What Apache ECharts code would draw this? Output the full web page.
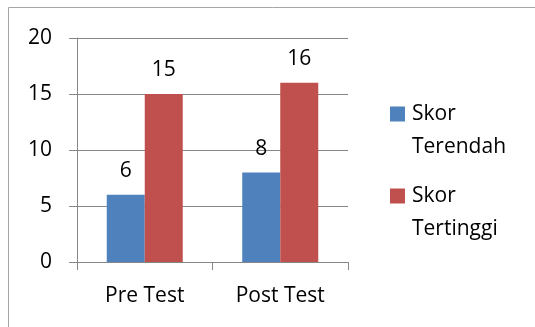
<!DOCTYPE html>
<html><head><meta charset="utf-8">
<script src="https://cdn.jsdelivr.net/npm/echarts@6/dist/echarts.min.js"></script>
<style>html,body{margin:0;padding:0;background:#fff}#c{width:535px;height:327px}</style>
</head><body><div id="c"></div>
<script>
var categories = ['Pre Test', 'Post Test'];
var seriesNames = ['Skor Terendah', 'Skor Tertinggi'];
var skorTerendah = [6, 8];
var skorTertinggi = [15, 16];
var yTicks = [0, 5, 10, 15, 20];

var FONT = 'Open Sans';
var FS = 21;
var chart = echarts.init(document.getElementById('c'), null, {renderer: 'canvas'});
var labelCfg = {show: true, position: 'top', distance: 13, color: '#000', fontFamily: FONT, fontSize: FS};
chart.setOption({
  animation: false,
  textStyle: {fontFamily: FONT},
  graphic: [{
    type: 'rect', silent: true,
    shape: {x: 8.5, y: 7.5, width: 700, height: 500},
    style: {fill: 'none', stroke: '#a6a6a6', lineWidth: 1}
  }],
  grid: {left: 77, right: 187, top: 38, bottom: 65, containLabel: false},
  legend: {
    orient: 'vertical', left: 390, top: 64.5, padding: 0, itemGap: -17,
    itemWidth: 15, itemHeight: 15, icon: 'rect',
    data: seriesNames,
    formatter: function (n) { return '\n' + n.replace(' ', '\n'); },
    textStyle: {fontFamily: FONT, fontSize: FS, color: '#000', lineHeight: 33, padding: [0, 0, 0, 2]}
  },
  xAxis: {
    type: 'category', data: categories,
    axisLine: {lineStyle: {color: '#868686'}},
    axisTick: {show: true, length: 8, lineStyle: {color: '#868686'}},
    axisLabel: {color: '#000', fontFamily: FONT, fontSize: FS, margin: 24},
    splitLine: {show: false}
  },
  yAxis: {
    type: 'value', min: yTicks[0], max: yTicks[yTicks.length - 1], interval: 5,
    axisLine: {show: true, lineStyle: {color: '#868686'}},
    axisTick: {show: true, length: 8, lineStyle: {color: '#868686'}},
    axisLabel: {color: '#000', fontFamily: FONT, fontSize: FS, margin: 25},
    splitLine: {show: true, lineStyle: {color: '#868686', width: 1}}
  },
  series: [
    {name: seriesNames[0], type: 'bar', data: skorTerendah, barWidth: 38, barGap: '0%',
     itemStyle: {color: '#4F81BD'}, label: labelCfg},
    {name: seriesNames[1], type: 'bar', data: skorTertinggi, barWidth: 38,
     itemStyle: {color: '#C0504D'}, label: labelCfg}
  ]
});
</script></body></html>
